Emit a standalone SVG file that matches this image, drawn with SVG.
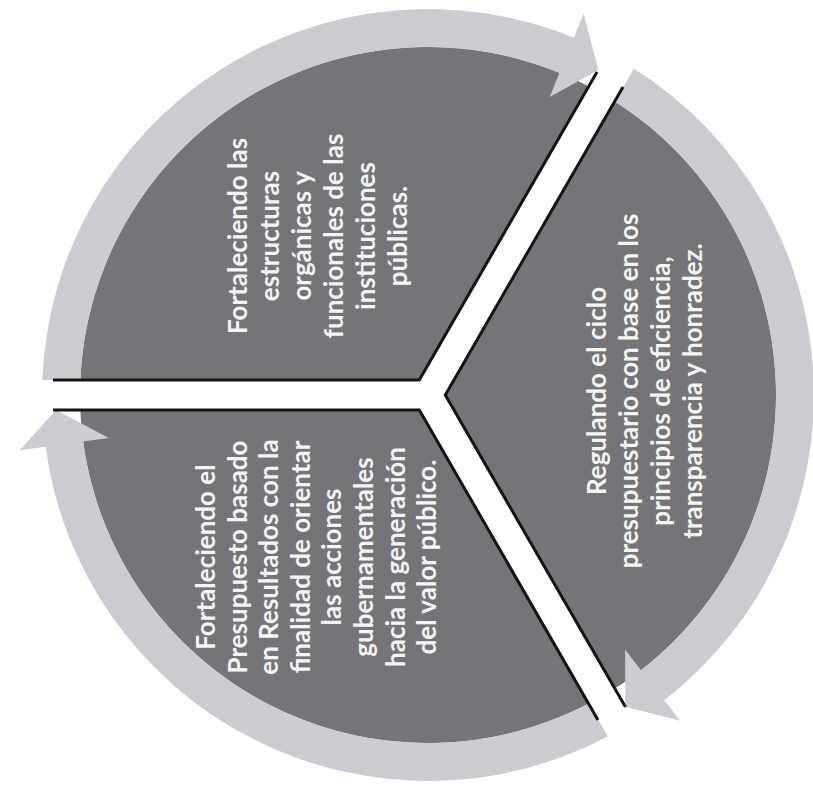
<svg xmlns="http://www.w3.org/2000/svg" width="813" height="787" viewBox="0 0 813 787">
<defs>
<style>
.sector{fill:#747479;}
.edge{fill:none;stroke:#141414;stroke-width:3;stroke-linejoin:miter;}
.arrow{fill:#cbcbd2;}
.lbl{font-family:Lato,"Open Sans","Liberation Sans",sans-serif;font-weight:700;font-size:26px;fill:#f4f4f4;text-anchor:middle;}
</style>
</defs>
<rect width="813" height="787" fill="#ffffff"/>
<g id="node-upper-left">
<path class="sector" d="M419.3 380 L80.3 380 A348 348 0 0 1 588.85 86.4 Z"/>
<g transform="rotate(-90)">
<text class="lbl" x="-236" y="247">Fortaleciendo las</text>
<text class="lbl" x="-236" y="279">estructuras</text>
<text class="lbl" x="-236" y="311">orgánicas y</text>
<text class="lbl" x="-236" y="343">funcionales de las</text>
<text class="lbl" x="-236" y="375">instituciones</text>
<text class="lbl" x="-236" y="407">públicas.</text>
</g>
</g>
<g id="node-right">
<path class="sector" d="M445.3 395 L614.85 101.4 A348 348 0 0 1 614.85 688.6 Z"/>
<g transform="rotate(-90)">
<text class="lbl" x="-391" y="606">Regulando el ciclo</text>
<text class="lbl" x="-391" y="638">presupuestario con base en los</text>
<text class="lbl" x="-391" y="670">principios de eficiencia,</text>
<text class="lbl" x="-391" y="702">transparencia y honradez.</text>
</g>
</g>
<g id="node-lower-left">
<path class="sector" d="M419.3 410 L588.85 703.6 A348 348 0 0 1 80.3 410 Z"/>
<g transform="rotate(-90)">
<text class="lbl" x="-557" y="215">Fortaleciendo el</text>
<text class="lbl" x="-557" y="247">Presupuesto basado</text>
<text class="lbl" x="-557" y="278">en Resultados con la</text>
<text class="lbl" x="-557" y="310">finalidad de orientar</text>
<text class="lbl" x="-557" y="341">las acciones</text>
<text class="lbl" x="-557" y="373">gubernamentales</text>
<text class="lbl" x="-557" y="405">hacia la generación</text>
<text class="lbl" x="-557" y="436">del valor público.</text>
</g>
</g>
<g id="connectors">
<path class="arrow" d="M42.3 380 A386 386 0 0 1 573.8 37.6 L583.7 13.5 L598.4 69.9 L549.7 96.9 L559.5 72.8 A348 348 0 0 0 80.3 380 Z"/>
<path class="arrow" d="M633.85 68.5 A386 386 0 0 1 664.3 700.2 L680.2 720.8 L625.35 706.8 L625.1 649.6 L641 670.2 A348 348 0 0 0 614.85 101.4 Z"/>
<path class="arrow" d="M607.85 736.5 A386 386 0 0 1 45.5 446.7 L19.7 450.2 L56 410 L108.9 438.1 L83.1 441.6 A348 348 0 0 0 588.85 703.6 Z"/>
</g>
<g id="sector-edges">
<polyline class="edge" points="53,380 419.3,380 597,72"/>
<polyline class="edge" points="623,87 445.3,395 625.5,707"/>
<polyline class="edge" points="53,410 419.3,410 598,720"/>
</g>
</svg>
